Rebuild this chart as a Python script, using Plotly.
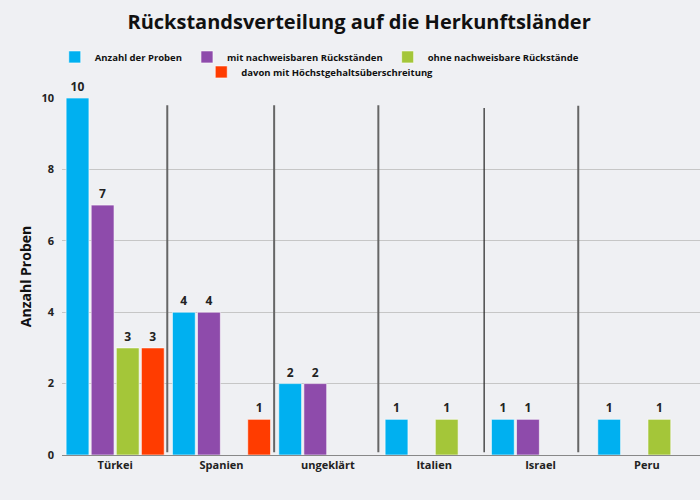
import plotly.graph_objects as go

categories = ["Türkei", "Spanien", "ungeklärt", "Italien", "Israel", "Peru"]
anzahl = [10, 4, 2, 1, 1, 1]
mit_rueck = [7, 4, 2, None, 1, None]
ohne_rueck = [3, None, None, 1, None, 1]
hoechst = [3, 1, None, None, None, None]
separators = [0.49, 1.495, 2.475, 3.47, 4.355]
separator_colors = ["#666666", "#666666", "#666666", "#222222", "#666666"]
separator_widths = [2, 2, 2, 1.2, 2]
separator_tops = [9.8, 9.8, 9.8, 9.72, 9.78]

series = [
    ("Anzahl der Proben", anzahl, "#00b0f0", "legend"),
    ("mit nachweisbaren Rückständen", mit_rueck, "#8e4bab", "legend"),
    ("ohne nachweisbare Rückstände", ohne_rueck, "#a4c639", "legend"),
    ("davon mit Höchstgehaltsüberschreitung", hoechst, "#ff3c00", "legend2"),
]

FONT = "Open Sans"
fig = go.Figure()
for name, vals, color, lg in series:
    fig.add_trace(go.Bar(
        name=name, x=categories, y=vals,
        marker=dict(color=color, line=dict(color="rgba(255,255,255,0.6)", width=1)),
        text=[("" if v is None else str(v)) for v in vals],
        textposition="outside",
        textfont=dict(family=FONT, size=12, color="#222222", weight="bold"),
        cliponaxis=False,
        legend=lg,
    ))

shapes = [dict(type="line", xref="x", yref="y", x0=s, x1=s, y0=0.08, y1=top,
               line=dict(color=c, width=w))
          for s, c, w, top in zip(separators, separator_colors, separator_widths, separator_tops)]

fig.update_layout(
    width=700, height=500,
    paper_bgcolor="#eff0f3", plot_bgcolor="#eff0f3",
    margin=dict(l=62, r=0, t=98, b=45, autoexpand=False),
    title=dict(text="Rückstandsverteilung auf die Herkunftsländer", x=0.513, xanchor="center",
               y=0.956, yanchor="middle",
               font=dict(family=FONT, size=20, color="#111111", weight="bold")),
    barmode="group", bargap=0.056, bargroupgap=0.09,
    font=dict(family=FONT, color="#222222"),
    shapes=shapes,
    legend=dict(orientation="h", x=0.404, xanchor="center", y=1.115, yanchor="middle",
                bgcolor="rgba(0,0,0,0)",
                font=dict(family=FONT, size=9.5, color="#111111", weight="bold")),
    legend2=dict(orientation="h", x=0.404, xanchor="center", y=1.073, yanchor="middle",
                 bgcolor="rgba(0,0,0,0)",
                 font=dict(family=FONT, size=9.5, color="#111111", weight="bold")),
    xaxis=dict(showline=True, linecolor="#888888", linewidth=1, ticks="", automargin=False,
               tickfont=dict(family=FONT, size=11, color="#222222", weight="bold")),
    yaxis=dict(range=[0, 10], dtick=2, showgrid=True, gridcolor="#c6c6c6", gridwidth=1,
               zeroline=False, ticks="", ticklabelstandoff=7, automargin=False,
               tickfont=dict(family=FONT, size=11, color="#222222", weight="bold"),
               title=dict(text="Anzahl Proben", standoff=6,
                          font=dict(family=FONT, size=14, color="#111111", weight="bold"))),
)

fig.write_html("out.html", config={"displayModeBar": False},
               post_script="document.body.style.margin='0';")
